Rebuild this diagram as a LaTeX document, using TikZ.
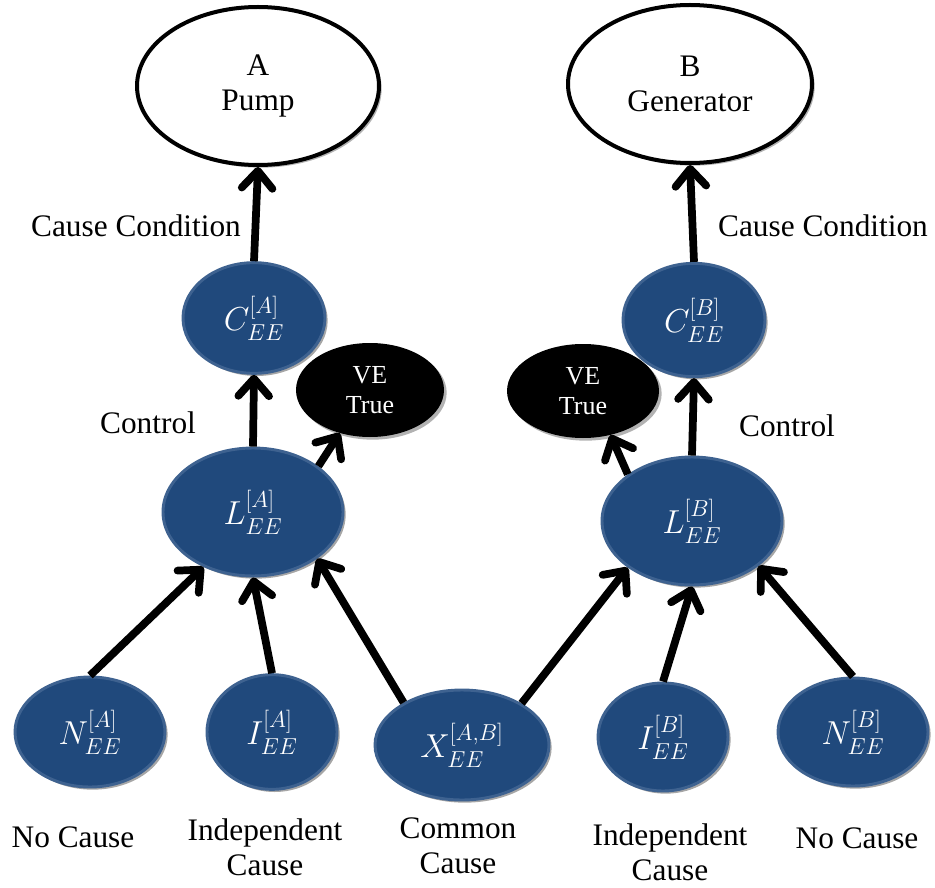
\documentclass[tikz,border=0pt]{standalone}
\usepackage{amsmath}
\usepackage{fontspec}
\setmainfont{Liberation Serif}
\usepackage{tikz}
\usetikzlibrary{arrows.meta,shapes.geometric,shadows}
\usepackage{xcolor}

\definecolor{nodeblue}{RGB}{32,73,124}
\definecolor{rimblue}{RGB}{62,98,144}

\begin{document}
\begin{tikzpicture}[x=0.75pt, y=-0.75pt,
    txt/.style={font=\fontsize{23.5}{26.25}\selectfont, align=center},
    var/.style={ellipse, fill=nodeblue, draw=rimblue, line width=2.2pt, text=white, inner sep=0pt,
                font=\fontsize{27}{30}\selectfont,
                drop shadow={shadow xshift=2pt, shadow yshift=-2pt, opacity=0.35, fill=black}},
    comp/.style={ellipse, fill=white, draw=black, line width=3pt, inner sep=0pt, txt,
                 drop shadow={shadow xshift=2pt, shadow yshift=-2pt, opacity=0.3, fill=black}},
    vebox/.style={ellipse, fill=black, text=white, inner sep=0pt, align=center,
                  font=\fontsize{19.5}{22.5}\selectfont,
                  drop shadow={shadow xshift=2pt, shadow yshift=-2pt, opacity=0.3, fill=black}},
    link/.style={line width=5.8pt, -{Straight Barb[length=13pt, width=23pt, round]}}
  ]
  \useasboundingbox (0,0) rectangle (935,888);

  % Components
  \node[comp, minimum width=181.5pt, minimum height=118.5pt] (pump) at (258,86) {A\\Pump};
  \node[comp, minimum width=183pt, minimum height=118.5pt] (gen) at (690,84) {B\\Generator};

  % Cause condition nodes
  \node[var, minimum width=106.5pt, minimum height=83pt] (CA) at (254,318) {$C^{[A]}_{EE}$};
  \node[var, minimum width=106.5pt, minimum height=85pt] (CB) at (694,320) {$C^{[B]}_{EE}$};

  % VE true
  \node[vebox, minimum width=111pt, minimum height=70.5pt] (VEA) at (370,390) {VE\\True};
  \node[vebox, minimum width=114pt, minimum height=70.5pt] (VEB) at (583,391) {VE\\True};

  % Control nodes
  \node[var, minimum width=135pt, minimum height=96pt] (LA) at (253,512) {$L^{[A]}_{EE}$};
  \node[var, minimum width=135pt, minimum height=96pt] (LB) at (692,521) {$L^{[B]}_{EE}$};

  % Causes
  \node[var, minimum width=112.5pt, minimum height=82.5pt] (NA) at (90,732) {$N^{[A]}_{EE}$};
  \node[var, minimum width=97.5pt, minimum height=86pt] (IA) at (272,732) {$I^{[A]}_{EE}$};
  \node[var, minimum width=130.5pt, minimum height=82.5pt] (X) at (462,745) {$X^{[A,B]}_{EE}$};
  \node[var, minimum width=97.5pt, minimum height=81pt] (IB) at (663,737) {$I^{[B]}_{EE}$};
  \node[var, minimum width=112.5pt, minimum height=81pt] (NB) at (853,732) {$N^{[B]}_{EE}$};

  % Arrows
  \draw[link] (CA.north) -- (pump.south);
  \draw[link] (CB.north) -- (gen.south);
  \draw[link] (LA.north) -- (CA.south);
  \draw[link] (LB.north) -- (CB.south);
  \draw[link] (LA.35) -- (VEA.-125);
  \draw[link] (LB.144) -- (VEB.-58);
  \draw[link] (NA.north) -- (LA.-132);
  \draw[link] (IA.north) -- (LA.south);
  \draw[link] (X.144) -- (LA.-36);
  \draw[link] (X.35) -- (LB.-144);
  \draw[link] (IB.north) -- (LB.south);
  \draw[link] (NB.north) -- (LB.-34);

  % Labels
  \node[txt] (ccA) at (136,226) {Cause Condition};
  \node[txt] (ccB) at (823,226) {Cause Condition};
  \node[txt] (ctlA) at (148,423) {Control};
  \node[txt] (ctlB) at (787,426) {Control};
  \node[txt] (noA) at (73,837) {No Cause};
  \node[txt] (indA) at (265,847) {Independent\\Cause};
  \node[txt] (com) at (458,846) {Common\\Cause};
  \node[txt] (indB) at (670,852) {Independent\\Cause};
  \node[txt] (noB) at (857,838) {No Cause};

\end{tikzpicture}
\end{document}
